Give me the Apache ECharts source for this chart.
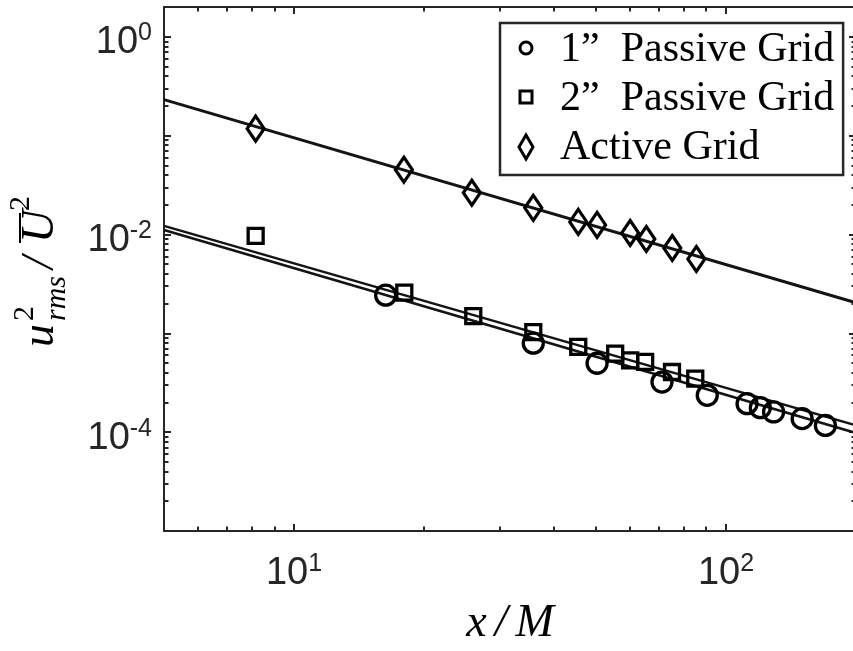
<!DOCTYPE html>
<html>
<head>
<meta charset="utf-8">
<script src="https://cdn.jsdelivr.net/npm/echarts@6/dist/echarts.min.js"></script>
<style>
  html, body { margin: 0; padding: 0; background: #ffffff; }
  #chart { width: 853px; height: 651px; }
</style>
</head>
<body>
<div id="chart"></div>
<script>
// Streamwise turbulence intensity decay behind three grids (log-log)
const passive1X = [16.3, 35.8, 50.3, 71.1, 90.5, 111.9, 120.1, 128.9, 150.1, 169.9];
const passive1Y = [2.43e-3, 7.94e-4, 4.98e-4, 3.21e-4, 2.36e-4, 1.94e-4, 1.77e-4, 1.60e-4, 1.37e-4, 1.17e-4];
const passive2X = [8.15, 18.0, 26.0, 35.8, 45.5, 55.4, 60.0, 65.0, 75.0, 84.9];
const passive2Y = [9.66e-3, 2.58e-3, 1.49e-3, 1.03e-3, 7.28e-4, 6.23e-4, 5.33e-4, 5.13e-4, 4.06e-4, 3.48e-4];
const activeX = [8.15, 17.96, 25.8, 35.8, 45.5, 50.3, 60.0, 65.4, 75.1, 85.4];
const activeY = [0.1175, 0.0451, 0.0264, 0.0186, 0.0134, 0.01248, 0.01035, 0.0090, 0.0073, 0.00564];

// Power-law fits, given by their values at the ends of the x range
const fitX = [5, 200];
const passive1Fit = [0.0111, 9.8e-5];
const passive2Fit = [0.0122, 1.17e-4];
const activeFit = [0.231, 0.00204];

const seriesNames = ['1\u201D  Passive Grid', '2\u201D  Passive Grid', 'Active Grid'];
const xLabelExps = [1, 2];
const yLabelExps = [-4, -2, 0];
const xRange = [5, 200];
const yRange = [1e-5, 2];

// Axes work in log10 space; values are converted when the series are built
const lg = Math.log10;
const toPts = (xs, ys) => xs.map((x, i) => [lg(x), lg(ys[i])]);

// decade and 2..9 sub-decade tick positions inside an extent
function logTicks(lo, hi) {
  const major = [], minor = [];
  for (let e = Math.floor(lg(lo)); e <= Math.ceil(lg(hi)); e++) {
    for (let k = 1; k <= 9; k++) {
      const v = k * Math.pow(10, e);
      if (v <= lo * 1.0001 || v >= hi * 0.9999) continue;
      (k === 1 ? major : minor).push(lg(v));
    }
  }
  return { major, minor };
}
const xt = logTicks(xRange[0], xRange[1]);
const yt = logTicks(yRange[0], yRange[1]);

const AX = '#262626';
const tickFont = '"Liberation Sans", Arial, sans-serif';
const labelRich = {
  b: { fontSize: 38, lineHeight: 38, fontFamily: tickFont, color: AX, verticalAlign: 'bottom' },
  s: { fontSize: 25, lineHeight: 25, fontFamily: tickFont, color: AX, verticalAlign: 'bottom', padding: [0, 0, 16, 0] }
};
const fmtPow = v => '{b|10}{s|' + Math.round(v) + '}';

function axis(dim, position, ticks, len, withLine, labels) {
  const isX = dim === 'x';
  const ext = isX ? xRange : yRange;
  const a = {
    type: 'value',
    position: position,
    min: lg(ext[0]),
    max: lg(ext[1]),
    splitLine: { show: false },
    axisLine: { show: withLine, onZero: false, lineStyle: { color: AX, width: 2 } },
    axisTick: { show: true, inside: true, length: len, customValues: ticks, lineStyle: { color: AX, width: 2 } },
    axisLabel: { show: false }
  };
  if (labels) {
    a.axisLabel = {
      show: true,
      customValues: labels,
      formatter: fmtPow,
      margin: isX ? 24 : 12,
      padding: isX ? 0 : [12, 0, 0, 0],
      rich: labelRich
    };
  }
  return a;
}

const chart = echarts.init(document.getElementById('chart'), null, { renderer: 'canvas' });

const markerStyle = { color: 'rgba(0,0,0,0)', borderColor: '#000', borderWidth: 3.3, opacity: 1 };
const fitLine = (vals, w) => ({
  type: 'line',
  data: toPts(fitX, vals),
  symbol: 'none',
  silent: true,
  z: 2,
  lineStyle: { color: '#141414', width: w },
  legendHoverLink: false
});

const serif = '"Liberation Serif", "DejaVu Serif", serif';
const nameStyle = { fontFamily: serif, fontStyle: 'italic', fontSize: 46, color: '#000' };

// legend key glyphs, drawn beside the legend entries
const keyX = 526;
const keyRows = [48, 97, 147];
const keyStroke = { stroke: '#000', fill: 'none', lineWidth: 3 };
const legendKeys = [
  { type: 'circle', shape: { cx: keyX, cy: keyRows[0], r: 6 }, style: keyStroke, z: 110 },
  { type: 'rect', shape: { x: keyX - 6, y: keyRows[1] - 6, width: 12, height: 12 }, style: keyStroke, z: 110 },
  { type: 'polygon', shape: { points: [[keyX, keyRows[2] - 12], [keyX + 7, keyRows[2]], [keyX, keyRows[2] + 12], [keyX - 7, keyRows[2]]] }, style: keyStroke, z: 110 }
];

chart.setOption({
  backgroundColor: '#ffffff',
  animation: false,
  grid: { left: 164, top: 7, width: 692, height: 524, containLabel: false, outerBoundsMode: 'none' },
  xAxis: [
    Object.assign(axis('x', 'bottom', xt.major, 7, true, xLabelExps), {
      name: '{i|x}{sl|/}{i2|M}',
      nameLocation: 'middle',
      nameGap: 70,
      nameTextStyle: {
        rich: {
          i: Object.assign({ padding: [0, 8, 0, 0] }, nameStyle),
          sl: Object.assign({ padding: [0, 8, 0, 0] }, nameStyle),
          i2: nameStyle
        }
      }
    }),
    axis('x', 'bottom', xt.minor, 4.5, false),
    axis('x', 'top', xt.major, 7, true),
    axis('x', 'top', xt.minor, 4.5, false)
  ],
  yAxis: [
    axis('y', 'left', yt.major, 7, true, yLabelExps),
    axis('y', 'left', yt.minor, 4.5, false),
    axis('y', 'right', yt.major, 7, true),
    axis('y', 'right', yt.minor, 4.5, false)
  ],
  legend: {
    orient: 'vertical',
    left: 500,
    top: 23,
    padding: [5, 9, 5, 18],
    itemGap: 5,
    itemWidth: 16,
    itemHeight: 30,
    borderColor: AX,
    borderWidth: 2.5,
    backgroundColor: '#fff',
    selectedMode: false,
    icon: 'none',
    textStyle: { fontFamily: serif, fontSize: 42, lineHeight: 44, color: '#000', padding: [0, 0, 0, 21] },
    data: seriesNames
  },
  graphic: [{
    type: 'group',
    x: 55,
    y: 347,
    rotation: Math.PI / 2,
    silent: true,
    children: [
      { type: 'text', x: 0, y: -14, style: { text: 'u', font: 'italic 46px ' + serif, fill: '#000', verticalAlign: 'middle' } },
      { type: 'text', x: 26, y: -30, style: { text: '2', font: '30px ' + serif, fill: '#000', verticalAlign: 'middle' } },
      { type: 'text', x: 26, y: 2, style: { text: 'rms', font: 'italic 30px ' + serif, fill: '#000', verticalAlign: 'middle' } },
      { type: 'text', x: 78, y: -14, style: { text: '/', font: 'italic 46px ' + serif, fill: '#000', verticalAlign: 'middle' } },
      { type: 'text', x: 104, y: -14, style: { text: 'U', font: 'italic 46px ' + serif, fill: '#000', verticalAlign: 'middle' } },
      { type: 'line', shape: { x1: 104, y1: -35, x2: 134, y2: -35 }, style: { stroke: '#000', lineWidth: 2 } },
      { type: 'text', x: 136, y: -34, style: { text: '2', font: '30px ' + serif, fill: '#000', verticalAlign: 'middle' } }
    ]
  }].concat(legendKeys.map(k => Object.assign({ silent: true }, k))),
  series: [
    fitLine(passive1Fit, 2.5),
    fitLine(passive2Fit, 2.5),
    fitLine(activeFit, 3),
    {
      name: seriesNames[0], type: 'scatter', symbol: 'circle', symbolSize: 20, z: 3,
      itemStyle: markerStyle, data: toPts(passive1X, passive1Y)
    },
    {
      name: seriesNames[1], type: 'scatter', symbol: 'rect', symbolSize: 15, z: 3,
      itemStyle: markerStyle, data: toPts(passive2X, passive2Y)
    },
    {
      name: seriesNames[2], type: 'scatter', symbol: 'diamond', symbolSize: [17, 25], z: 3,
      itemStyle: markerStyle, data: toPts(activeX, activeY)
    }
  ]
});
</script>
</body>
</html>
